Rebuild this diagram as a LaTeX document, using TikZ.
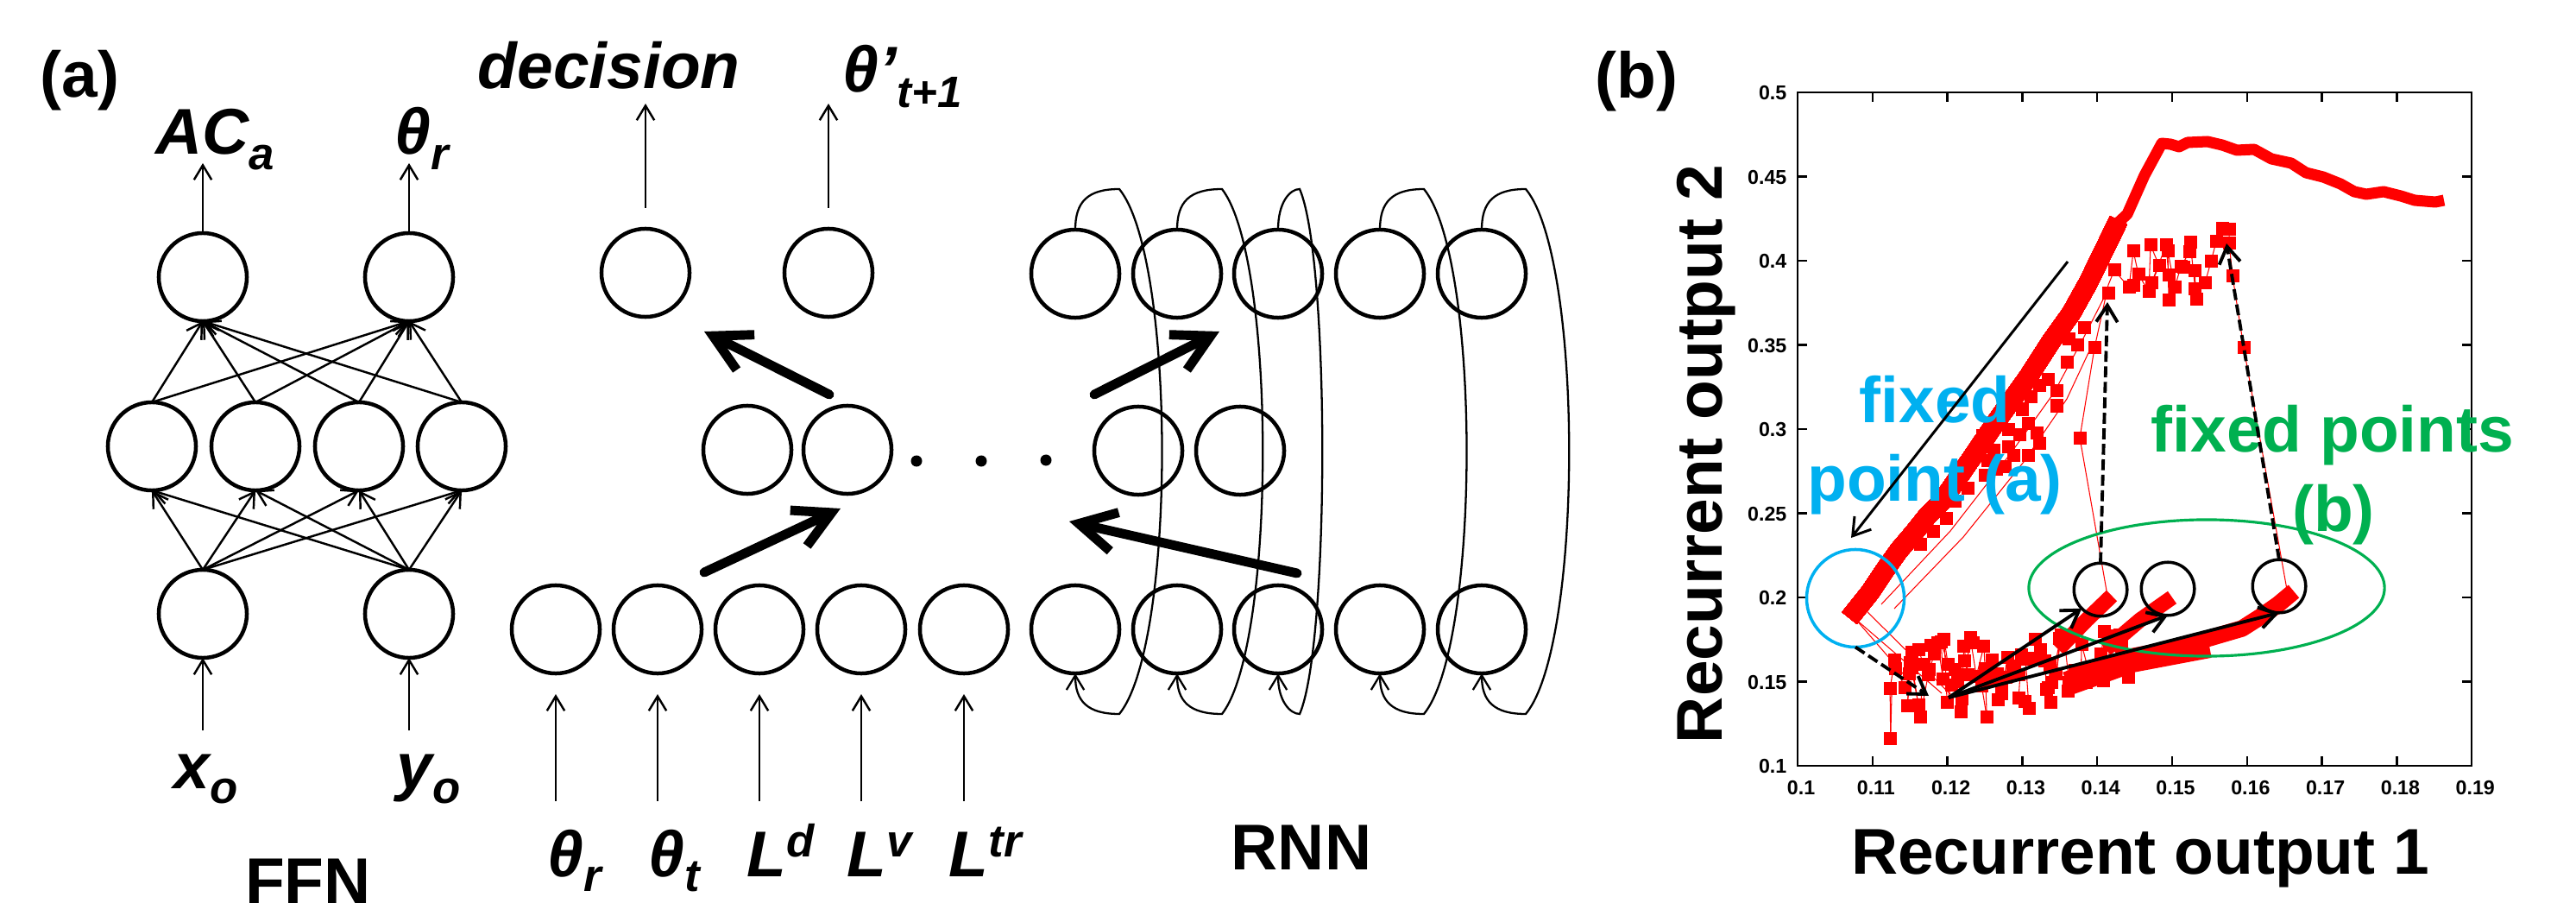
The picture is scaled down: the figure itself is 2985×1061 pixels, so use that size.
\documentclass[tikz,border=0pt]{standalone}
\usepackage{fontspec}
\setmainfont{Liberation Sans}
\usetikzlibrary{arrows.meta,shapes.geometric}
\definecolor{datared}{RGB}{255,0,0}
\definecolor{fpblue}{RGB}{0,176,240}
\definecolor{fpgreen}{RGB}{0,176,80}
\newcommand\bigfont{\fontsize{21.3pt}{25pt}\selectfont}
\newcommand\smallfont{\fontsize{15pt}{18pt}\selectfont}
\newcommand\tickfont{\fontsize{6.6pt}{8pt}\selectfont}
\newcommand\varsub[2]{#1\raisebox{-5pt}{\smallfont #2}}
\newcommand\varsup[2]{#1\raisebox{6.5pt}{\smallfont #2}}
\newcommand\datasq[2]{\fill[datared] (#1-7.5,#2-7.5) rectangle (#1+7.5,#2+7.5);}

\begin{document}
\begin{tikzpicture}[x=0.01cm,y=-0.01cm,
  neuron/.style={circle,draw,line width=1.28pt,minimum size=1.02cm,inner sep=0pt,outer sep=0pt},
  link/.style={line width=0.7pt,-{Straight Barb[length=4.8pt,width=5.8pt]}},
  flow/.style={line width=3.1pt,line cap=round,-{Straight Barb[length=12pt,width=13pt]}},
  feedback/.style={line width=0.65pt,-{Straight Barb[length=4.8pt,width=5.8pt]}},
  varlabel/.style={inner sep=0pt,anchor=base west,font=\bigfont\bfseries\itshape},
  headtext/.style={inner sep=0pt,anchor=base,font=\bigfont\bfseries},
  ticklabel/.style={inner sep=0pt,font=\tickfont\bfseries},
  thinred/.style={datared,line width=0.3pt},
  ring/.style={circle,draw,line width=1pt,minimum size=0.615cm,inner sep=0pt,outer sep=0pt},
  hint/.style={line width=1.1pt,-{Straight Barb[length=5.5pt,width=7pt]}},
  hintdash/.style={hint,dash pattern=on 3.6pt off 1.5pt}
]
\useasboundingbox (0,0) rectangle (2985,1061);

% ---------------- panel labels ----------------
\node[inner sep=0pt,anchor=base west,font=\bigfont\bfseries] (pa) at (46,113) {(a)};
\node[inner sep=0pt,anchor=base west,font=\bigfont\bfseries] (pb) at (1848,114) {(b)};

% ---------------- feed-forward network ----------------
\node[neuron] (fo1) at (235,321) {};
\node[neuron] (fo2) at (474,321) {};
\node[neuron] (fh1) at (176,517) {};
\node[neuron] (fh2) at (296,517) {};
\node[neuron] (fh3) at (416,517) {};
\node[neuron] (fh4) at (535,517) {};
\node[neuron] (fi1) at (235,711) {};
\node[neuron] (fi2) at (474,711) {};
\foreach \a in {1,2}
  \foreach \b in {1,...,4}
    \draw[link] (fi\a.north) -- (fh\b.south);
\foreach \b in {1,...,4}
  \foreach \a in {1,2}
    \draw[link] (fh\b.north) -- (fo\a.south);
\coordinate (ffnout1) at (235,189);
\coordinate (ffnout2) at (474,189);
\coordinate (ffnin1) at (235,846);
\coordinate (ffnin2) at (474,846);
\draw[link] (fo1.north) -- (ffnout1);
\draw[link] (fo2.north) -- (ffnout2);
\draw[link] (ffnin1) -- (fi1.south);
\draw[link] (ffnin2) -- (fi2.south);
\node[varlabel] (lac) at (180,179) {\varsub{AC}{a}};
\node[varlabel] (lthr) at (457,179) {\varsub{θ}{r}};
\node[varlabel] (lxo) at (201,913) {\varsub{x}{o}};
\node[varlabel] (lyo) at (459,913) {\varsub{y}{o}};
\node[headtext] (ffn) at (357,1046) {FFN};

% ---------------- middle network ----------------
\node[neuron] (d1) at (748,316) {};
\node[neuron] (d2) at (960,316) {};
\node[neuron] (m1) at (866,521) {};
\node[neuron] (m2) at (982,521) {};
\foreach \i/\x in {1/644,2/762,3/880,4/998,5/1117} {
  \node[neuron] (in\i) at (\x,729) {};
  \coordinate (src\i) at (\x,928);
  \draw[link,shorten >=0.24cm] (src\i) -- (in\i.south);
}
\coordinate (decout) at (748,120);
\coordinate (thout) at (960,120);
\draw[link,shorten <=0.24cm] (d1.north) -- (decout);
\draw[link,shorten <=0.24cm] (d2.north) -- (thout);
\node[varlabel] (ldec) at (553,103) {decision};
\node[varlabel] (lthn) at (976,107) {θ’\raisebox{-5pt}{\fontsize{14.5pt}{16pt}\selectfont t+1}};
\node[varlabel] (lin1) at (634,1015) {\varsub{θ}{r}};
\node[varlabel] (lin2) at (751,1015) {\varsub{θ}{t}};
\node[varlabel] (lin3) at (865,1015) {\varsup{L}{d}};
\node[varlabel] (lin4) at (981,1015) {\varsup{L}{v}};
\node[varlabel] (lin5) at (1099,1015) {\varsup{L}{tr}};

% thick flow arrows
\coordinate (fa1) at (961,457);  \coordinate (fa1t) at (816,384);
\coordinate (fa2) at (816,663);  \coordinate (fa2t) at (974,589);
\coordinate (fa3) at (1268,457); \coordinate (fa3t) at (1413,384);
\coordinate (fa4) at (1503,664); \coordinate (fa4t) at (1239,604);
\draw[flow] (fa1) -- (fa1t);
\draw[flow] (fa2) -- (fa2t);
\draw[flow] (fa3) -- (fa3t);
\draw[flow] (fa4) -- (fa4t);

% ellipsis dots
\fill (1062,534) circle[radius=0.065cm];
\fill (1137,534) circle[radius=0.065cm];
\fill (1212,533) circle[radius=0.065cm];

% ---------------- recurrent network ----------------
\foreach \i/\x in {1/1246,2/1364,3/1481,4/1599,5/1717} {
  \node[neuron] (rt\i) at (\x,317) {};
  \node[neuron] (rb\i) at (\x,729) {};
}
\node[neuron] (rm1) at (1319,522) {};
\node[neuron] (rm2) at (1437,522) {};
\foreach \i/\x/\p/\b in {1/1246/51/66,2/1364/52/63,3/1481/25/35,4/1599/51/66,5/1717/51/67}
  \draw[feedback] (rt\i.north) .. controls (\x,234) and (\x+14,219) .. (\x+\p,219)
     .. controls (\x+\p+\b,300) and (\x+\p+\b,746) .. (\x+\p,827)
     .. controls (\x+14,827) and (\x,812) .. (rb\i.south);
\node[headtext] (rnn) at (1508,1007) {RNN};

% ---------------- state-space plot ----------------
% lower cloud of samples, joined in time order
\pgfmathsetseed{4}
\gdef\lastx{2192}\gdef\lasty{805}
\foreach \i in {0,...,95} {
  \pgfmathsetmacro\xx{2192+\i*2.9+6*rand}
  \pgfmathsetmacro\yy{805-0.17*(\xx-2192)+(62-0.12*(\xx-2192))*rand}
  \draw[thinred] (\lastx,\lasty) -- (\xx,\yy);
  \datasq{\xx}{\yy}
  \xdef\lastx{\xx}\xdef\lasty{\yy}
}
% thin trajectories
\draw[thinred] (2150,717) -- (2217,794);
\draw[thinred] (2150,717) -- (2250,803);
\draw[thinred] (2160,705) -- (2262,806);
\draw[thinred] (2180,700) -- (2260,615) -- (2330,525) -- (2380,455) -- (2415,390) -- (2443,335);
\draw[thinred] (2195,705) -- (2275,622) -- (2345,535) -- (2395,462) -- (2425,398);
\draw[thinred] (2442,690) -- (2410,507) -- (2427,403) -- (2443,330) -- (2450,313) -- (2467,333)
  -- (2472,291) -- (2478,318) -- (2490,338) -- (2492,284) -- (2502,308) -- (2493,328)
  -- (2510,284) -- (2513,319) -- (2513,348) -- (2512,291) -- (2520,333) -- (2527,309)
  -- (2537,292) -- (2538,281) -- (2545,347) -- (2543,314) -- (2555,328) -- (2562,303)
  -- (2568,280) -- (2575,265) -- (2583,266) -- (2583,282) -- (2587,320) -- (2600,403) -- (2650,683);
% upper cluster and band samples
\foreach \x/\y in {2575/265,2583/266,2568/280,2583/282,2562/303,2555/328,2545/347,2543/314,
  2543/335,2538/281,2537/292,2527/309,2520/333,2513/319,2513/348,2512/291,2510/284,2502/308,
  2492/284,2493/328,2490/338,2478/318,2472/291,2472/331,2467/333,2450/313,2443/340,2530/310,
  2587/320,2600/403,2410/507,2427/403,
  2383/453,2383/470,2373/440,2363/513,2350/490,2340/503,2327/517,2350/527,2333/527,2323/540,
  2313/543,2300/550,2303/533,2407/400,2397/393,2343/474,2353/460,2363/447,2360/501,2327/497,
  2310/521,2297/504,2280/565,2265/580,2255/600,2240/615,2225/630,2395/420,2415/380}
  \datasq{\x}{\y}
% main branch
\draw[datared,line width=6.3pt,line join=round] (2143,716) -- (2167,686) -- (2183,662) -- (2200,638)
  -- (2217,618) -- (2233,598) -- (2250,581) -- (2283,533) -- (2317,483) -- (2350,437)
  -- (2377,395) -- (2400,363) -- (2420,327) -- (2437,292) -- (2455,255);
\draw[datared,line width=3.7pt,line join=round] (2450,262) -- (2465,248) -- (2485,203) -- (2498,179)
  -- (2505,166) -- (2515,167) -- (2525,170) -- (2535,165) -- (2558,164) -- (2575,168)
  -- (2592,174) -- (2612,173) -- (2632,184) -- (2655,189) -- (2672,200) -- (2692,205)
  -- (2712,213) -- (2728,222) -- (2742,225) -- (2762,222) -- (2782,227) -- (2798,232)
  -- (2822,234) -- (2832,232);
% converging bands
\draw[datared,line width=5pt] (2385,752) -- (2418,718) -- (2447,690);
\draw[datared,line width=5pt] (2440,752) -- (2480,718) -- (2517,692);
\draw[datared,line width=8pt] (2395,792) -- (2470,765) -- (2560,748);
\draw[datared,line width=5.5pt,line join=round] (2540,745) -- (2598,728) -- (2620,714) -- (2640,700) -- (2658,685);

% frame and ticks
\draw[line width=0.8pt] (2083,107) rectangle (2864,887);
\foreach \k in {1,...,8} {
  \draw[line width=0.7pt] (2083+\k*86.8,887) -- ++(0,-11);
  \draw[line width=0.7pt] (2083+\k*86.8,107) -- ++(0,11);
}
\foreach \k in {1,...,7} {
  \draw[line width=0.7pt] (2083,887-\k*97.5) -- ++(11,0);
  \draw[line width=0.7pt] (2864,887-\k*97.5) -- ++(-11,0);
}
\foreach \k/\t in {0/0.1,1/0.11,2/0.12,3/0.13,4/0.14,5/0.15,6/0.16,7/0.17,8/0.18,9/0.19}
  \node[ticklabel] at (2087+\k*86.8,913) {\t};
\foreach \k/\t in {0/0.1,1/0.15,2/0.2,3/0.25,4/0.3,5/0.35,6/0.4,7/0.45,8/0.5}
  \node[ticklabel,anchor=east] at (2071,888-\k*97.5) {\t};
\node[headtext] (xtitle) at (2480,1012) {Recurrent output 1};
\node[headtext,rotate=90] (ytitle) at (1995,526) {Recurrent output 2};

% annotations
\node[headtext,text=fpblue] (fpa1) at (2242,489) {fixed};
\node[headtext,text=fpblue] (fpa2) at (2242,580) {point (a)};
\node[headtext,text=fpgreen] (fpb1) at (2703,523) {fixed points};
\node[headtext,text=fpgreen] (fpb2) at (2704,615) {(b)};

\node[circle,draw=fpblue,line width=1pt,minimum size=1.13cm,inner sep=0pt,outer sep=0pt] (fpa) at (2150,693) {};
\node[ellipse,draw=fpgreen,line width=0.9pt,minimum width=4.12cm,minimum height=1.58cm,inner sep=0pt] (fpb) at (2557,681) {};
\node[ring] (c1) at (2434,683) {};
\node[ring] (c2) at (2512,682) {};
\node[ring] (c3) at (2641,679) {};

\coordinate (trendstart) at (2396,303);
\coordinate (trendend) at (2145,623);
\draw[line width=0.85pt,-{Straight Barb[length=5.5pt,width=7pt]}] (trendstart) -- (trendend);
\coordinate (kick) at (2235,806);
\coordinate (fan) at (2258,808);
\coordinate (jump1) at (2442,350);
\coordinate (jump3) at (2580,282);
\draw[hintdash] (fpa.south) -- (kick);
\draw[hintdash] (c1.north) -- (jump1);
\draw[hintdash] (c3.north) -- (jump3);
\draw[hint] (fan) -- (c1.south west);
\draw[hint] (fan) -- (c2.south);
\draw[hint] (fan) -- (c3.south);
\end{tikzpicture}
\end{document}
